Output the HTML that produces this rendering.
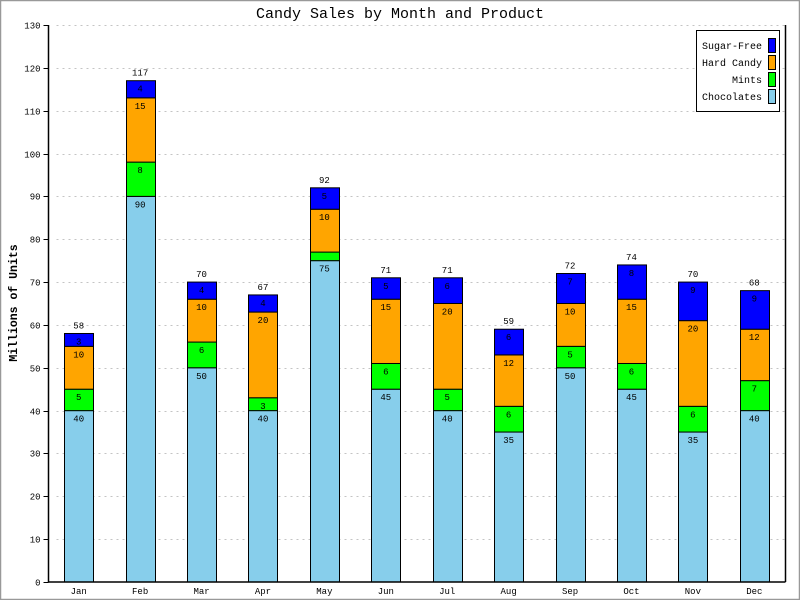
<!DOCTYPE html>
<html><head><meta charset="utf-8"><style>
html,body{margin:0;padding:0;background:#fff}
svg{display:block}
text{font-family:"Liberation Mono","DejaVu Sans Mono",monospace;fill:#000}
</style></head><body>
<svg id="s" width="800" height="600" xmlns="http://www.w3.org/2000/svg">
<rect x="0.5" y="0.5" width="799" height="599" fill="#fff" stroke="#999" stroke-width="1.5"/>
<text x="400" y="18" font-size="15" text-anchor="middle">Candy Sales by Month and Product</text>
<text transform="translate(17,303) rotate(-90)" font-size="11.5" font-weight="bold" text-anchor="middle">Millions of Units</text>
<g id="g"></g>
</svg>
<script>
var g=document.getElementById('g'),NS='http://www.w3.org/2000/svg';
function el(t,a,txt){var e=document.createElementNS(NS,t);for(var k in a)e.setAttribute(k,a[k]);if(txt!=null)e.textContent=txt;g.appendChild(e);return e;}
var x0=48.5,x1=785.5,yb=582,yt=25,sc=(yb-yt)/130;
for(var v=0;v<=130;v+=10){var y=Math.round(yb-v*sc)+0.5;
 if(v>0)el('line',{x1:x0+8,x2:x1,y1:y,y2:y,stroke:'#c4c4c4','stroke-dasharray':'2,4'});
 el('line',{x1:x0-5,x2:x0,y1:y,y2:y,stroke:'#000'});
 el('text',{x:x0-8,y:y+3,'font-size':'9','text-anchor':'end'},String(v));}
var m=['Jan','Feb','Mar','Apr','May','Jun','Jul','Aug','Sep','Oct','Nov','Dec'];
var d=[[40,5,10,3],[90,8,15,4],[50,6,10,4],[40,3,20,4],[75,2,10,5],[45,6,15,5],[40,5,20,6],[35,6,12,6],[50,5,10,7],[45,6,15,8],[35,6,20,9],[40,7,12,9]];
var col=['#87ceeb','#00ff00','#ffa500','#0000ff'];
var w=(x1-x0)/12;
for(var i=0;i<12;i++){var cx=x0+w*(i+0.5)-0.5,bx=Math.round(cx-14.5)+0.5,cum=0;
 for(var j=0;j<4;j++){var v=d[i][j],ya=yb-cum*sc,yb2=yb-(cum+v)*sc;
  el('rect',{x:bx,y:yb2,width:29,height:ya-yb2,fill:col[j],stroke:'#000','stroke-width':'1'});
  if(v>2)el('text',{x:cx,y:yb2+11,'font-size':'9','text-anchor':'middle'},String(v));
  cum+=v;}
 el('text',{x:cx,y:yb-cum*sc-5,'font-size':'9','text-anchor':'middle'},String(cum));
 el('text',{x:cx,y:594,'font-size':'9','text-anchor':'middle'},m[i]);}
el('line',{x1:x0,x2:x0,y1:yt,y2:yb,stroke:'#000','stroke-width':'1.5'});
el('line',{x1:x0,x2:x1,y1:yb,y2:yb,stroke:'#000','stroke-width':'1.5'});
el('line',{x1:x1,x2:x1,y1:yt,y2:yb,stroke:'#000','stroke-width':'1.5'});
el('rect',{x:696.5,y:30.5,width:83,height:81,fill:'#fff',stroke:'#000'});
var ln=['Sugar-Free','Hard Candy','Mints','Chocolates'],lc=['#0000ff','#ffa500','#00ff00','#87ceeb'];
for(var k=0;k<4;k++){var y=38+k*17;
 el('rect',{x:768.5,y:y+0.5,width:7,height:14,fill:lc[k],stroke:'#000'});
 el('text',{x:762,y:y+11,'font-size':'10','text-anchor':'end'},ln[k]);}
</script>
</body></html>
